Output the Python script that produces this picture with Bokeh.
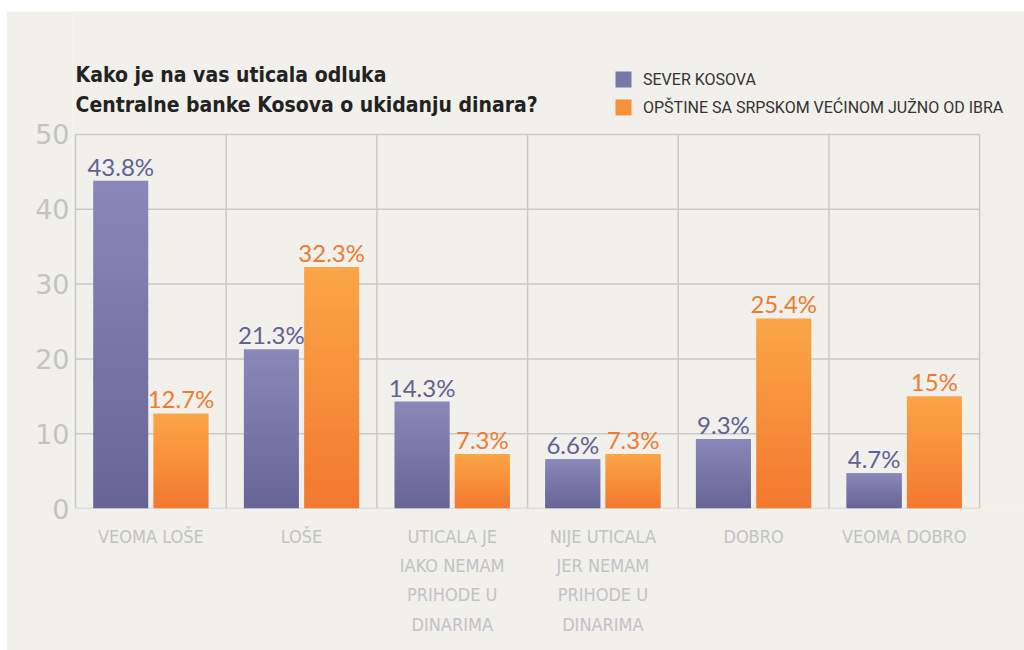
import numpy as np
from bokeh.plotting import figure
from bokeh.layouts import column, row
from bokeh.models import Range1d, FixedTicker, Label, Legend, LegendItem, Spacer
from bokeh.embed import file_html
from bokeh.resources import INLINE

categories = ["VEOMA LOŠE", "LOŠE", "UTICALA JE\nIAKO NEMAM\nPRIHODE U\nDINARIMA",
              "NIJE UTICALA\nJER NEMAM\nPRIHODE U\nDINARIMA", "DOBRO", "VEOMA DOBRO"]
sever = [43.8, 21.3, 14.3, 6.6, 9.3, 4.7]
juzno = [12.7, 32.3, 7.3, 7.3, 25.4, 15.0]
sever_labels = ["43.8%", "21.3%", "14.3%", "6.6%", "9.3%", "4.7%"]
juzno_labels = ["12.7%", "32.3%", "7.3%", "7.3%", "25.4%", "15%"]
series_names = ["SEVER KOSOVA", "OPŠTINE SA SRPSKOM VEĆINOM JUŽNO OD IBRA"]
title_lines = ["Kako je na vas uticala odluka", "Centralne banke Kosova o ukidanju dinara?"]
y_ticks = [0, 10, 20, 30, 40, 50]

BG = "#f1f0eb"
GRID = "#c9c9c9"
PURPLE_TOP, PURPLE_BOT = (0x8a, 0x88, 0xb9), (0x66, 0x65, 0x95)
ORANGE_TOP, ORANGE_BOT = (0xfb, 0xa6, 0x46), (0xf3, 0x78, 0x2f)

YMAX = y_ticks[-1]
NC = len(categories)
PAD = 0.02
# frame runs from the chart's left edge to the right edge of the figure,
# so the legend text on the right is not clipped
p = figure(width=1018, height=639, output_backend="svg", toolbar_location=None,
           x_range=Range1d(-PAD, 6.298), y_range=Range1d(0, 66.44),
           min_border_left=66, min_border_right=0, min_border_top=0, min_border_bottom=142)
p.background_fill_color = BG
p.border_fill_color = BG
p.outline_line_color = None
p.xgrid.visible = False
p.ygrid.visible = False

# grid lines confined to the chart body (0..50)
p.segment(x0=[0] * len(y_ticks), x1=[NC] * len(y_ticks), y0=y_ticks, y1=y_ticks,
          line_color=GRID, line_width=1.5)
bounds = list(range(NC + 1))
p.segment(x0=bounds, x1=bounds, y0=[0] * len(bounds), y1=[YMAX] * len(bounds),
          line_color=GRID, line_width=1.5)

# axes
centers = [i + 0.5 for i in range(NC)]
xa = p.xaxis[0]
xa.ticker = FixedTicker(ticks=centers)
xa.major_label_overrides = {c: lab for c, lab in zip(centers, categories)}
xa.axis_line_color = None
xa.major_tick_line_color = None
xa.minor_tick_line_color = None
xa.major_label_text_font = "DejaVu Sans Condensed"
xa.major_label_text_font_size = "18px"
xa.major_label_text_color = "#c2c2c6"
xa.major_label_text_line_height = 1.4
xa.major_label_standoff = 11

ya = p.yaxis[0]
ya.ticker = FixedTicker(ticks=y_ticks)
ya.axis_line_color = None
ya.major_tick_line_color = None
ya.minor_tick_line_color = None
ya.major_label_text_font = "DejaVu Sans"
ya.major_label_text_font_size = "27px"
ya.major_label_text_color = "#c3c3c3"
ya.major_label_standoff = -3

# gradient bars built from data values
N = 40
BW = 0.365
OFF = 0.2

def interp(c1, c2, t):
    return "#%02x%02x%02x" % tuple(int(round(a + (b - a) * t)) for a, b in zip(c1, c2))

def gradient_bars(values, offset, top, bot):
    l, r, b, t, col = [], [], [], [], []
    for i, v in enumerate(values):
        cx = centers[i] + offset
        for k in range(N):
            l.append(cx - BW / 2)
            r.append(cx + BW / 2)
            b.append(v * k / N)
            t.append(min(v, v * (k + 1) / N + 0.15))
            col.append(interp(bot, top, (k + 0.5) / N))
    return p.quad(left=l, right=r, bottom=b, top=t, fill_color=col, line_color=None)

rs = gradient_bars(sever, -OFF, PURPLE_TOP, PURPLE_BOT)
rj = gradient_bars(juzno, OFF, ORANGE_TOP, ORANGE_BOT)

# value labels
p.text(x=[c - OFF for c in centers], y=sever, text=sever_labels,
       text_align="center", text_baseline="bottom", y_offset=0,
       text_font={"value": "Lato"}, text_font_size={"value": "24px"}, text_color="#626195")
p.text(x=[c + OFF for c in centers], y=juzno, text=juzno_labels,
       text_align="center", text_baseline="bottom", y_offset=0,
       text_font={"value": "Lato"}, text_font_size={"value": "24px"}, text_color="#ee7b32")

# legend
legend = Legend(items=[LegendItem(label=series_names[0], renderers=[rs], index=N // 2),
                       LegendItem(label=series_names[1], renderers=[rj], index=N // 2)],
                location=(541, 391), orientation="vertical",
                glyph_width=20, glyph_height=20, spacing=8, padding=0, margin=0,
                label_standoff=10, label_text_font="Roboto", label_text_font_size="16px",
                label_text_color="#333333", background_fill_alpha=0, border_line_color=None,
                label_height=20)
p.add_layout(legend, "center")

# title
for txt, yy in zip(title_lines, [57.9, 54.0]):
    p.add_layout(Label(x=0.0, y=yy, text=txt, text_font="DejaVu Sans Condensed",
                       text_font_style="bold", text_font_size="21px", text_color="#222222",
                       text_baseline="alphabetic"))

layout = column(Spacer(height=11), row(Spacer(width=6), p))
open("out.html", "w").write(file_html(layout, INLINE))
